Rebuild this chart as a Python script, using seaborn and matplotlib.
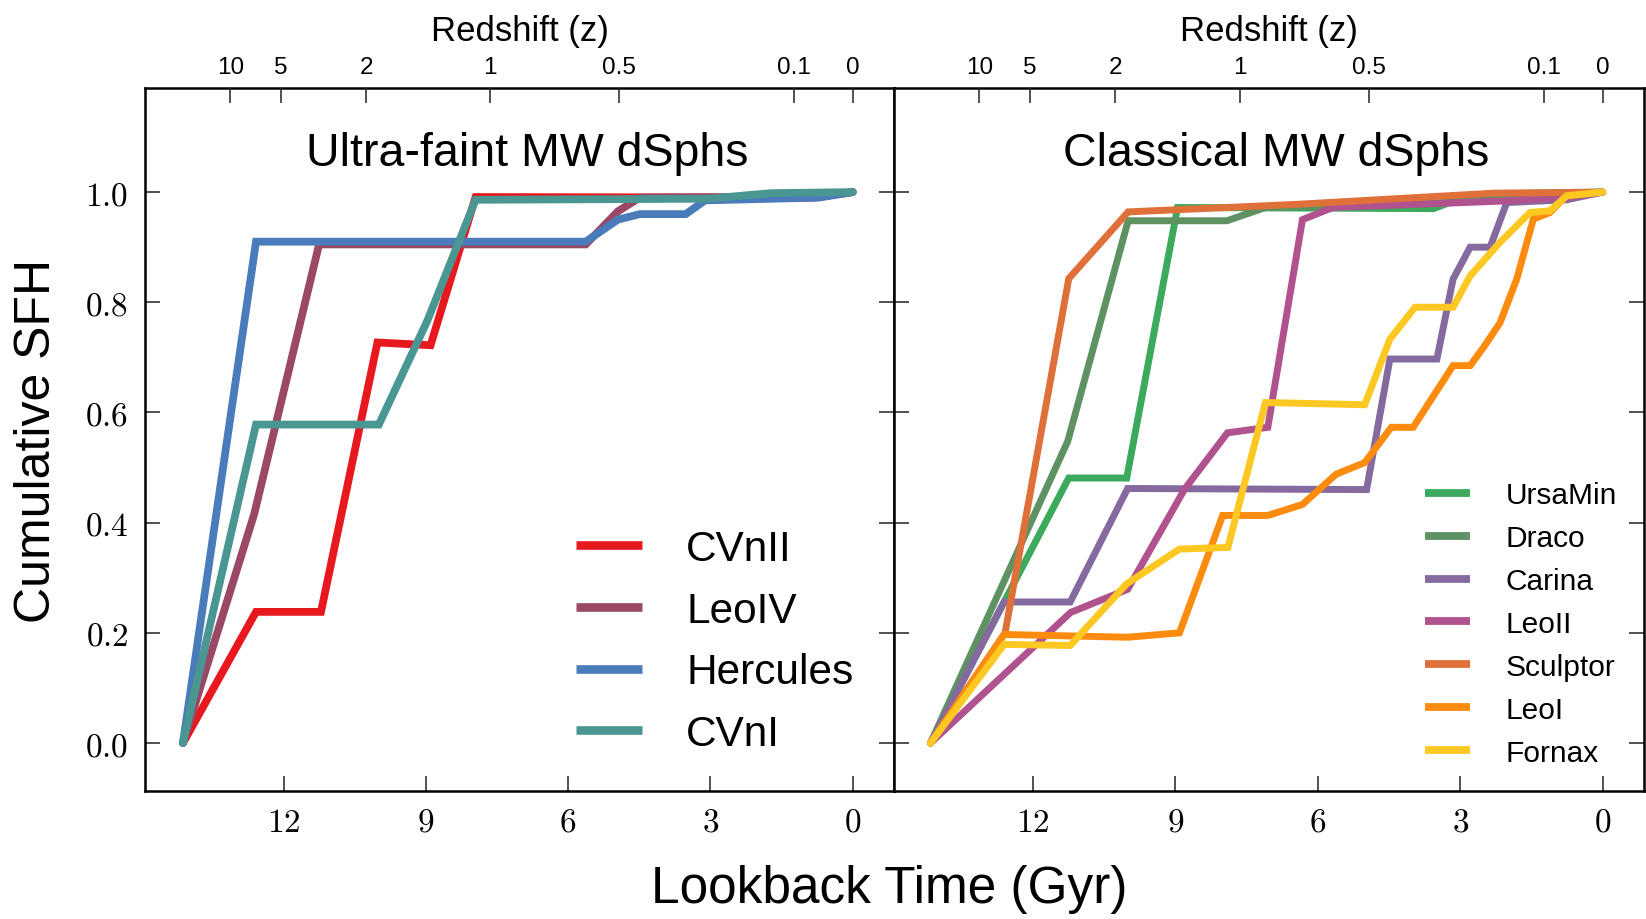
import numpy as np
import pandas as pd
import matplotlib
matplotlib.use("Agg")
import matplotlib.pyplot as plt
from matplotlib.lines import Line2D
from matplotlib.ticker import FuncFormatter
import seaborn as sns

# ---------------- data ----------------
# Ultra-faint MW dSphs: lookback time (Gyr) / cumulative SFH
cvnii_t = [14.12, 12.58, 11.21, 10.02, 8.90, 7.95, 0.82, 0.0]
cvnii_f = [0.0, 0.238, 0.238, 0.727, 0.722, 0.991, 0.990, 1.0]

leoiv_t = [14.12, 12.62, 11.25, 5.63, 4.95, 4.49, 0.66, 0.0]
leoiv_f = [0.0, 0.415, 0.905, 0.905, 0.965, 0.990, 0.992, 1.0]

hercules_t = [14.12, 12.58, 5.63, 4.95, 4.49, 3.52, 3.11, 0.71, 0.0]
hercules_f = [0.0, 0.910, 0.910, 0.950, 0.960, 0.960, 0.985, 0.990, 1.0]

cvni_t = [14.12, 12.58, 9.99, 8.97, 7.95, 3.06, 1.73, 0.0]
cvni_f = [0.0, 0.578, 0.578, 0.766, 0.986, 0.988, 0.998, 1.0]

# Classical MW dSphs
ursamin_t = [14.15, 11.24, 10.02, 8.95, 3.56, 3.10, 2.16, 0.0]
ursamin_f = [0.0, 0.481, 0.481, 0.972, 0.970, 0.985, 0.997, 1.0]

draco_t = [14.15, 11.26, 9.99, 7.91, 7.10, 3.50, 1.50, 0.0]
draco_f = [0.0, 0.548, 0.948, 0.948, 0.972, 0.980, 0.996, 1.0]

carina_t = [14.15, 12.60, 11.21, 10.00, 4.97, 4.48, 3.49, 3.15, 2.79, 2.37, 2.02, 0.76, 0.0]
carina_f = [0.0, 0.256, 0.256, 0.462, 0.460, 0.697, 0.697, 0.842, 0.900, 0.900, 0.981, 0.986, 1.0]

leoii_t = [14.15, 11.20, 10.00, 8.80, 7.90, 7.05, 6.32, 5.68, 2.02, 0.76, 0.0]
leoii_f = [0.0, 0.237, 0.279, 0.461, 0.563, 0.573, 0.950, 0.972, 0.984, 0.990, 1.0]

sculptor_t = [14.15, 12.58, 11.24, 9.99, 6.38, 2.30, 0.0]
sculptor_f = [0.0, 0.200, 0.843, 0.964, 0.978, 0.998, 1.0]

leoi_t = [14.15, 12.60, 10.00, 8.91, 8.00, 7.05, 6.32, 5.61, 5.01, 4.45, 3.99,
          3.15, 2.79, 2.51, 2.16, 1.81, 1.46, 1.11, 0.76, 0.0]
leoi_f = [0.0, 0.197, 0.192, 0.200, 0.413, 0.413, 0.433, 0.488, 0.509, 0.573, 0.573,
          0.685, 0.685, 0.718, 0.763, 0.842, 0.951, 0.963, 0.994, 1.0]

fornax_t = [14.15, 12.60, 11.21, 10.02, 8.91, 7.89, 7.10, 5.01, 4.48, 3.95, 3.15,
            2.79, 2.16, 1.53, 1.11, 0.76, 0.0]
fornax_f = [0.0, 0.179, 0.177, 0.289, 0.352, 0.355, 0.618, 0.614, 0.733, 0.791, 0.791,
            0.848, 0.909, 0.963, 0.966, 0.993, 1.0]

left_names = ["CVnII", "LeoIV", "Hercules", "CVnI"]
left_colors = ["#e8191e", "#9a4866", "#4a7bba", "#4a9692"]
left_t = [cvnii_t, leoiv_t, hercules_t, cvni_t]
left_f = [cvnii_f, leoiv_f, hercules_f, cvni_f]

right_names = ["UrsaMin", "Draco", "Carina", "LeoII", "Sculptor", "LeoI", "Fornax"]
right_colors = ["#3caa5c", "#5e9262", "#846a9e", "#b0528e", "#e0703a", "#fd8c0e", "#fec823"]
right_t = [ursamin_t, draco_t, carina_t, leoii_t, sculptor_t, leoi_t, fornax_t]
right_f = [ursamin_f, draco_f, carina_f, leoii_f, sculptor_f, leoi_f, fornax_f]

# redshift ticks on the top axis, placed at their lookback times (Gyr)
z_labels = ["10", "5", "2", "1", "0.5", "0.1", "0"]
z_lookback = [13.12, 12.06, 10.26, 7.64, 4.92, 1.24, 0.0]

time_ticks = [12, 9, 6, 3, 0]
sfh_ticks = [0.0, 0.2, 0.4, 0.6, 0.8, 1.0]

titles = ["Ultra-faint MW dSphs", "Classical MW dSphs"]


def long_frame(names, ts, fs):
    rows = []
    for n, t, f in zip(names, ts, fs):
        for i, (a, b) in enumerate(zip(t, f)):
            rows.append({"galaxy": n, "lookback": a, "sfh": b, "order": i})
    return pd.DataFrame(rows)


# ---------------- style ----------------
sns.set_style("white")
plt.rcParams["font.family"] = ["Liberation Sans", "DejaVu Sans"]
plt.rcParams["mathtext.fontset"] = "cm"
plt.rcParams["text.color"] = "black"
plt.rcParams["axes.labelcolor"] = "black"
plt.rcParams["xtick.color"] = "black"
plt.rcParams["ytick.color"] = "black"

fig = plt.figure(figsize=(16.46, 9.2), dpi=100)
ax_l = fig.add_axes([0.0881, 0.1386, 0.4550, 0.7647])
ax_r = fig.add_axes([0.5431, 0.1386, 0.4557, 0.7647])

XLIM = (14.92, -0.87)
YLIM = (-0.088, 1.189)

panels = [
    (ax_l, left_names, left_colors, left_t, left_f, 5.6, 30.5,
     dict(loc="lower right", bbox_to_anchor=(0.997, -0.001), handlelength=1.55,
          handletextpad=1.05, labelspacing=0.51)),
    (ax_r, right_names, right_colors, right_t, right_f, 5.0, 21.5,
     dict(loc="lower right", bbox_to_anchor=(1.0, -0.003), handlelength=1.5,
          handletextpad=1.2, labelspacing=0.50)),
]

math_fmt = FuncFormatter(lambda v, p: r"$%g$" % v)
math_fmt_y = FuncFormatter(lambda v, p: r"$%.1f$" % v)

for idx, (ax, names, colors, ts, fs, lw, lfs, legkw) in enumerate(panels):
    df = long_frame(names, ts, fs)
    pal = dict(zip(names, colors))
    sns.lineplot(data=df, x="lookback", y="sfh", hue="galaxy", hue_order=names,
                 palette=pal, sort=False, estimator=None, linewidth=lw,
                 legend=False, ax=ax, solid_joinstyle="miter")
    ax.set_xlim(*XLIM)
    ax.set_ylim(*YLIM)
    ax.set_xticks(time_ticks)
    ax.xaxis.set_major_formatter(math_fmt)
    ax.set_yticks(sfh_ticks)
    ax.set_xlabel("")
    ax.set_ylabel("")
    ax.tick_params(axis="x", which="both", direction="in", top=False, bottom=True,
                   length=11, width=1.1, labelsize=24, pad=11, color="#222222")
    ax.tick_params(axis="y", which="both", direction="in", left=True, right=True,
                   length=11, width=1.1, labelsize=24, pad=12, color="#222222")
    if idx == 0:
        ax.yaxis.set_major_formatter(math_fmt_y)
    else:
        ax.tick_params(axis="y", labelleft=False)
    for s in ax.spines.values():
        s.set_linewidth(1.8)
        s.set_color("black")
        s.set_visible(True)

    ax.text(0.51, 0.907, titles[idx], transform=ax.transAxes, ha="center",
            va="center", fontsize=33.5)

    handles = [Line2D([0], [0], color=c, lw=lw + 0.6, solid_capstyle="butt") for c in colors]
    ax.legend(handles, names, fontsize=lfs, frameon=False, **legkw)

    top = ax.twiny()
    top.set_xlim(*XLIM)
    top.set_xticks(z_lookback)
    top.set_xticklabels(z_labels)
    top.tick_params(axis="x", direction="in", length=11, width=1.1, labelsize=17.5,
                    pad=7, color="#222222")
    top.set_xlabel("Redshift (z)", fontsize=25, labelpad=12)
    for s in top.spines.values():
        s.set_visible(False)

fig.text(37 / 1646, 1 - 441 / 920, "Cumulative SFH", rotation=90, ha="center",
         va="center", fontsize=36)
fig.text(889 / 1646, 1 - 890 / 920, "Lookback Time (Gyr)", ha="center",
         va="center", fontsize=37)

fig.savefig("out.png", dpi=100)
